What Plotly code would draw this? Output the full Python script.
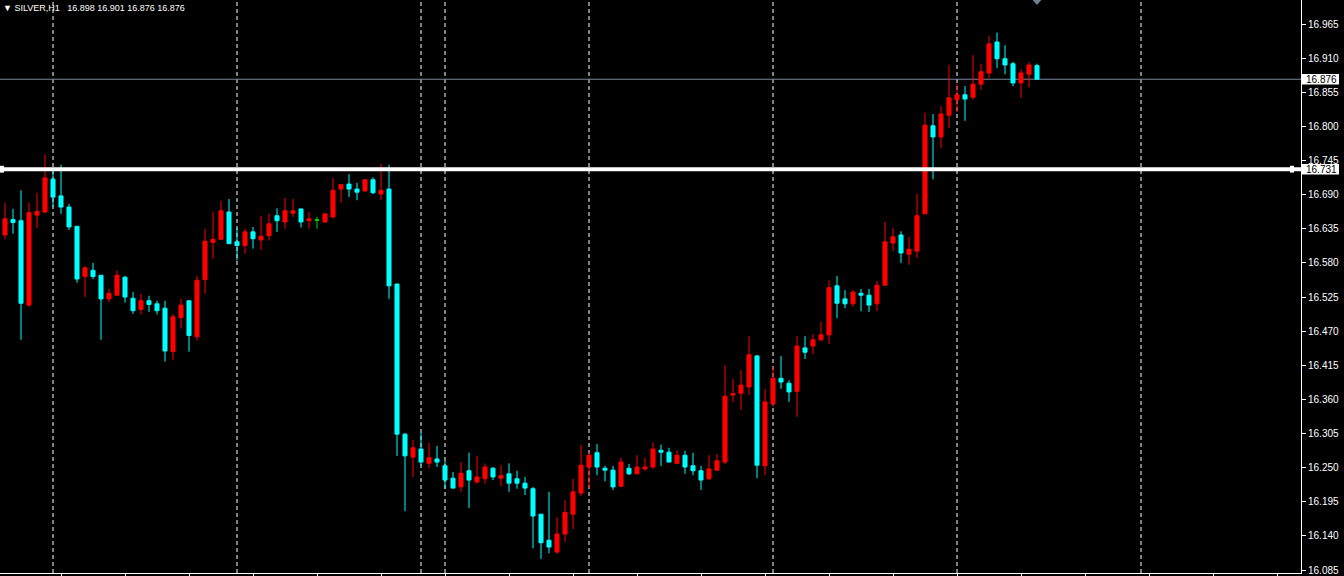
import plotly.graph_objects as go

# ---------------- data (SILVER, H1) ----------------
bars = list(range(130))
opens = [16.625, 16.650, 16.648, 16.512, 16.657, 16.662, 16.715, 16.688, 16.670, 16.639,
         16.558, 16.568, 16.560, 16.522, 16.528, 16.557, 16.523, 16.505, 16.519, 16.514,
         16.507, 16.437, 16.492, 16.519, 16.461, 16.553, 16.613, 16.618, 16.662, 16.614,
         16.608, 16.630, 16.617, 16.624, 16.656, 16.646, 16.660, 16.667, 16.648, 16.649,
         16.646, 16.654, 16.699, 16.707, 16.699, 16.696, 16.714, 16.691, 16.699, 16.546,
         16.304, 16.267, 16.280, 16.257, 16.264, 16.253, 16.233, 16.219, 16.245, 16.227,
         16.232, 16.249, 16.233, 16.240, 16.232, 16.225, 16.216, 16.175, 16.133, 16.114,
         16.143, 16.175, 16.209, 16.251, 16.274, 16.249, 16.246, 16.220, 16.249, 16.240,
         16.248, 16.251, 16.278, 16.275, 16.257, 16.270, 16.253, 16.245, 16.232, 16.246,
         16.259, 16.367, 16.370, 16.380, 16.430, 16.253, 16.353, 16.394, 16.386, 16.373,
         16.443, 16.446, 16.456, 16.464, 16.543, 16.522, 16.514, 16.531, 16.528, 16.514,
         16.544, 16.612, 16.625, 16.594, 16.599, 16.659, 16.801, 16.783, 16.818, 16.843,
         16.851, 16.847, 16.868, 16.886, 16.936, 16.909, 16.901, 16.870, 16.884, 16.898]
highs = [16.677, 16.667, 16.697, 16.677, 16.693, 16.755, 16.727, 16.738, 16.675, 16.639,
         16.575, 16.580, 16.560, 16.538, 16.568, 16.559, 16.533, 16.530, 16.527, 16.519,
         16.519, 16.498, 16.522, 16.519, 16.559, 16.635, 16.662, 16.680, 16.683, 16.636,
         16.635, 16.638, 16.656, 16.659, 16.668, 16.685, 16.683, 16.667, 16.662, 16.654,
         16.660, 16.717, 16.706, 16.723, 16.709, 16.715, 16.718, 16.739, 16.738, 16.546,
         16.306, 16.295, 16.306, 16.290, 16.285, 16.261, 16.243, 16.259, 16.274, 16.269,
         16.257, 16.251, 16.254, 16.257, 16.245, 16.235, 16.219, 16.175, 16.211, 16.170,
         16.198, 16.232, 16.287, 16.275, 16.288, 16.253, 16.253, 16.266, 16.256, 16.270,
         16.266, 16.291, 16.287, 16.282, 16.278, 16.277, 16.274, 16.253, 16.270, 16.272,
         16.415, 16.393, 16.407, 16.462, 16.432, 16.377, 16.412, 16.430, 16.391, 16.462,
         16.462, 16.465, 16.485, 16.552, 16.559, 16.536, 16.536, 16.538, 16.538, 16.551,
         16.646, 16.636, 16.631, 16.622, 16.691, 16.822, 16.820, 16.833, 16.899, 16.868,
         16.865, 16.915, 16.901, 16.946, 16.951, 16.931, 16.904, 16.892, 16.904, 16.901]
lows = [16.618, 16.627, 16.456, 16.509, 16.636, 16.660, 16.670, 16.659, 16.633, 16.548,
        16.525, 16.554, 16.456, 16.517, 16.528, 16.516, 16.498, 16.497, 16.501, 16.497,
        16.421, 16.424, 16.474, 16.437, 16.455, 16.530, 16.587, 16.617, 16.611, 16.584,
        16.595, 16.603, 16.601, 16.616, 16.630, 16.635, 16.654, 16.637, 16.635, 16.635,
        16.645, 16.652, 16.677, 16.686, 16.681, 16.694, 16.691, 16.681, 16.522, 16.269,
        16.180, 16.235, 16.254, 16.249, 16.251, 16.216, 16.217, 16.211, 16.185, 16.224,
        16.224, 16.230, 16.220, 16.211, 16.216, 16.206, 16.120, 16.103, 16.112, 16.111,
        16.130, 16.151, 16.204, 16.217, 16.238, 16.228, 16.214, 16.219, 16.238, 16.240,
        16.245, 16.248, 16.253, 16.259, 16.257, 16.240, 16.238, 16.214, 16.230, 16.245,
        16.256, 16.356, 16.343, 16.367, 16.233, 16.238, 16.348, 16.377, 16.356, 16.332,
        16.425, 16.433, 16.454, 16.449, 16.491, 16.507, 16.509, 16.502, 16.501, 16.502,
        16.543, 16.599, 16.580, 16.577, 16.588, 16.659, 16.715, 16.765, 16.797, 16.823,
        16.809, 16.843, 16.859, 16.878, 16.894, 16.884, 16.865, 16.846, 16.863, 16.876]
closes = [16.651, 16.645, 16.515, 16.661, 16.663, 16.717, 16.686, 16.670, 16.638, 16.554,
          16.572, 16.558, 16.522, 16.531, 16.560, 16.525, 16.503, 16.519, 16.513, 16.503,
          16.438, 16.493, 16.512, 16.463, 16.552, 16.615, 16.618, 16.664, 16.611, 16.608,
          16.630, 16.619, 16.623, 16.643, 16.648, 16.664, 16.664, 16.646, 16.651, 16.649,
          16.659, 16.697, 16.706, 16.699, 16.694, 16.714, 16.693, 16.697, 16.543, 16.304,
          16.269, 16.282, 16.259, 16.266, 16.259, 16.230, 16.217, 16.241, 16.230, 16.235,
          16.251, 16.235, 16.237, 16.225, 16.225, 16.217, 16.172, 16.129, 16.122, 16.143,
          16.178, 16.211, 16.254, 16.270, 16.251, 16.246, 16.219, 16.259, 16.240, 16.251,
          16.251, 16.280, 16.275, 16.259, 16.270, 16.251, 16.245, 16.230, 16.248, 16.261,
          16.365, 16.369, 16.383, 16.432, 16.254, 16.356, 16.394, 16.388, 16.372, 16.446,
          16.436, 16.456, 16.464, 16.540, 16.515, 16.514, 16.533, 16.528, 16.512, 16.544,
          16.614, 16.622, 16.596, 16.602, 16.656, 16.802, 16.783, 16.820, 16.846, 16.851,
          16.844, 16.868, 16.888, 16.933, 16.909, 16.899, 16.870, 16.886, 16.899, 16.876]

day_separators = [6, 29, 52, 55, 73, 96, 119, 142]
price_ticks = [16.085, 16.140, 16.195, 16.250, 16.305, 16.360, 16.415, 16.470, 16.525,
               16.580, 16.635, 16.690, 16.745, 16.800, 16.855, 16.910, 16.965]
level_price = 16.731
bid_price = 16.876
symbol_label = "SILVER,H1"
last_ohlc = [16.898, 16.901, 16.876, 16.876]

# ---------------- styling ----------------
UP = "#ff0000"
DOWN = "#00ffff"
DOJI = "#00e000"
FONT = "Liberation Sans"

def subset(cond):
    idx = [i for i in bars if cond(opens[i], closes[i])]
    return ([bars[i] for i in idx], [opens[i] for i in idx], [highs[i] for i in idx],
            [lows[i] for i in idx], [closes[i] for i in idx])

fig = go.Figure()
for cond, col in [(lambda o, c: c > o, UP), (lambda o, c: c < o, DOWN), (lambda o, c: c == o, DOJI)]:
    x, o, h, l, c = subset(cond)
    fig.add_trace(go.Candlestick(
        x=x, open=o, high=h, low=l, close=c,
        increasing=dict(line=dict(color=col, width=1), fillcolor=col),
        decreasing=dict(line=dict(color=col, width=1), fillcolor=col),
        whiskerwidth=0, showlegend=False, hoverinfo="skip"))

shapes = []
for s in day_separators:
    shapes.append(dict(type="line", xref="x", yref="paper", x0=s, x1=s, y0=0, y1=1,
                       line=dict(color="white", width=1, dash="4px,3px"), layer="below"))
# bid line
shapes.append(dict(type="line", xref="paper", yref="y", x0=0, x1=1, y0=bid_price, y1=bid_price,
                   line=dict(color="#7a889e", width=1), layer="below"))
# horizontal level
shapes.append(dict(type="line", xref="paper", yref="y", x0=0, x1=1, y0=level_price, y1=level_price,
                   line=dict(color="white", width=4), layer="above"))
PW = 1301.0
for xa, xb in [(0, 4), (1290, 1294)]:
    shapes.append(dict(type="rect", xref="paper", yref="y", x0=xa / PW, x1=xb / PW,
                       y0=level_price - 0.0055, y1=level_price + 0.0055,
                       fillcolor="white", line=dict(width=0), layer="above"))
# price label boxes on the axis
for p in [bid_price, level_price]:
    shapes.append(dict(type="rect", xref="paper", yref="y", x0=1 + 1 / PW, x1=1 + 38 / PW,
                       y0=p - 0.0085, y1=p + 0.0085, fillcolor="white", line=dict(width=0),
                       layer="above"))
# shift marker triangle
last = bars[-1]
shapes.append(dict(type="path", xref="x", yref="paper",
                   path=f"M {last - 0.55},1 L {last + 0.55},1 L {last},{1 - 5 / 573} Z",
                   fillcolor="#6f7f95", line=dict(width=0), layer="above"))

annotations = [
    dict(xref="paper", yref="paper", x=0, y=1, xanchor="left", yanchor="top", xshift=1, yshift=-1,
         showarrow=False, align="left",
         text="\u25BC " + symbol_label + "\u00a0\u00a0\u00a0" + " ".join(f"{v:.3f}" for v in last_ohlc),
         font=dict(family=FONT, size=9, color="white")),
]
for p in [bid_price, level_price]:
    annotations.append(dict(xref="paper", yref="y", x=1, y=p, xanchor="left", yanchor="middle",
                            xshift=3, showarrow=False, text=f"{p:.3f}",
                            font=dict(family=FONT, size=10, color="black")))
fig.update_layout(
    width=1344, height=576,
    margin=dict(l=0, r=43, t=0, b=3),
    paper_bgcolor="black", plot_bgcolor="black",
    boxgap=0.3, boxgroupgap=0.28,
    shapes=shapes, annotations=annotations,
    showlegend=False,
    xaxis=dict(range=[-0.625, 162.0], rangeslider=dict(visible=False), showgrid=False,
               zeroline=False, showline=True, linecolor="white", linewidth=1,
               ticks="outside", ticklen=3, tickcolor="white", tick0=7, dtick=8,
               showticklabels=False),
    yaxis=dict(side="right", range=[16.0802, 17.0037], showgrid=False, zeroline=False,
               showline=True, linecolor="white", linewidth=1, ticks="outside", ticklen=4,
               tickcolor="white", tickvals=price_ticks, ticktext=[f"{v:.3f}" for v in price_ticks],
               tickfont=dict(family=FONT, size=10, color="white")),
)
fig.write_html("out.html", config={"displayModeBar": False},
               post_script="document.body.style.margin='0px';document.body.style.background='black';")
